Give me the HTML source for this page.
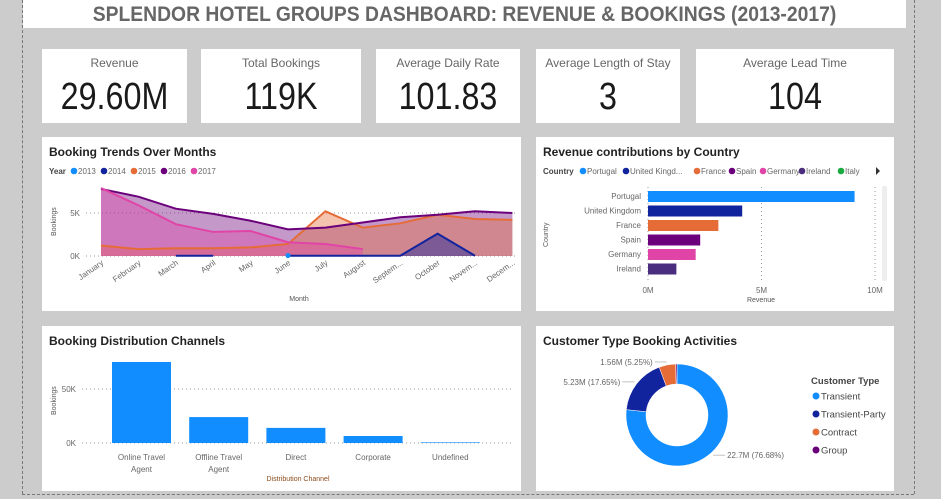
<!DOCTYPE html>
<html><head><meta charset="utf-8">
<style>
body{margin:0;width:941px;height:499px;background:#cccccc;position:relative;overflow:hidden;font-family:"Liberation Sans",sans-serif;}
.abs{position:absolute;}
.panel{position:absolute;background:#fff;}
.card{position:absolute;background:#fff;top:49px;height:74px;text-align:center;}
.card .lbl{position:absolute;left:0;right:0;top:7px;font-size:12px;color:#666;}
.card .val{position:absolute;left:0;right:0;top:27px;font-size:38px;color:#1a1a1a;transform:scaleX(.85);}
.ptitle{position:absolute;left:7px;top:8px;font-size:12px;font-weight:bold;color:#222;}
svg text{font-family:"Liberation Sans",sans-serif;}
</style></head><body>
<div class="abs" style="left:22px;top:0;height:494px;border-left:1px dashed #777"></div>
<div class="abs" style="left:914px;top:0;height:494px;border-left:1px dashed #777"></div>
<div class="abs" style="left:22px;top:494px;width:892px;border-top:1px dashed #777"></div>
<div class="abs" style="left:23px;top:0;width:883px;height:28px;background:#fff;text-align:center;">
<div style="font-size:21px;font-weight:bold;color:#666;line-height:24px;padding-top:3px;transform:scaleX(.92);white-space:nowrap;">SPLENDOR HOTEL GROUPS DASHBOARD: REVENUE &amp; BOOKINGS (2013-2017)</div></div>

<div class="card" style="left:42px;width:145px"><div class="lbl">Revenue</div><div class="val">29.60M</div></div>
<div class="card" style="left:201px;width:160px"><div class="lbl">Total Bookings</div><div class="val">119K</div></div>
<div class="card" style="left:376px;width:144px"><div class="lbl">Average Daily Rate</div><div class="val">101.83</div></div>
<div class="card" style="left:536px;width:144px"><div class="lbl">Average Length of Stay</div><div class="val">3</div></div>
<div class="card" style="left:696px;width:198px"><div class="lbl">Average Lead Time</div><div class="val">104</div></div>

<div class="panel" style="left:42px;top:137px;width:479px;height:174px"><div class="ptitle">Booking Trends Over Months</div></div>
<div class="panel" style="left:536px;top:137px;width:358px;height:174px"><div class="ptitle">Revenue contributions by Country</div></div>
<div class="panel" style="left:42px;top:326px;width:479px;height:165px"><div class="ptitle">Booking Distribution Channels</div></div>
<div class="panel" style="left:536px;top:326px;width:358px;height:165px"><div class="ptitle">Customer Type Booking Activities</div></div>

<svg id="chart" class="abs" style="left:0;top:0" width="941" height="499"></svg>
<script>
// ---- Booking trends data ----
const months=["January","February","March","April","May","June","July","August","Septem...","October","Novem...","Decem..."];
const years=["2013","2014","2015","2016","2017"];
const yearColors=["#118dff","#12239e","#e66c37","#6b007b","#e044a7"];
const s2013=[null,null,null,null,null,0.05,null,null,null,null,null,null];
const s2014=[null,null,0.03,0.03,null,0.03,0.03,0.03,0.03,2.6,0.03,null];
const s2015=[1.2,0.8,0.9,0.9,1.0,1.4,5.2,3.3,3.8,4.8,4.3,4.2];
const s2016=[7.8,6.9,5.5,4.9,4.1,3.1,3.3,3.9,4.5,4.8,5.2,5.0];
const s2017=[7.9,5.9,3.7,2.8,2.9,1.6,1.4,0.8,null,null,null,null];
const trendTicks=[0,5];
// ---- Country data ----
const countries=["Portugal","United Kingdom","France","Spain","Germany","Ireland"];
const countryRevenue=[9.1,4.15,3.1,2.3,2.1,1.25];
const countryColors=["#118dff","#12239e","#e66c37","#6b007b","#e044a7","#4b2d7f"];
const countryLegend=["Portugal","United Kingd...","France","Spain","Germany","Ireland","Italy"];
const countryLegendColors=["#118dff","#12239e","#e66c37","#6b007b","#e044a7","#4b2d7f","#1aab40"];
const revenueTicks=[0,5,10];
// ---- Channel data ----
const channels=[["Online Travel","Agent"],["Offline Travel","Agent"],["Direct"],["Corporate"],["Undefined"]];
const channelBookings=[75,24,14,6.5,0.6];
const channelTicks=[0,50];
// ---- Customer type data ----
const custTypes=["Transient","Transient-Party","Contract","Group"];
const custShare=[76.68,17.65,5.25,0.42];
const custLabels=["22.7M (76.68%)","5.23M (17.65%)","1.56M (5.25%)",""];
const custColors=["#118dff","#12239e","#e66c37","#6b007b"];

const svg=document.getElementById('chart');
const NS="http://www.w3.org/2000/svg";
function mk(tag,attrs,parent){const e=document.createElementNS(NS,tag);for(const k in attrs)e.setAttribute(k,attrs[k]);(parent||svg).appendChild(e);return e;}
function txt(x,y,s,attrs){const t=mk('text',Object.assign({x:x,y:y,'font-size':8,fill:'#666'},attrs||{}));t.textContent=s;return t;}

// ===== Booking trends =====
const tx=i=>101+i*37.4, ty=v=>256-v*8.6;
txt(49,174,"Year",{'font-weight':'bold',fill:'#444'});
let lx=71;
years.forEach((y,i)=>{const c=mk('circle',{cx:lx+3,cy:171,r:3.3,fill:yearColors[i]});


const t=txt(lx+7,174,y);


lx+=30;});
trendTicks.forEach(v=>{const l=mk('line',{x1:86,x2:515,y1:ty(v),y2:ty(v),stroke:'#999','stroke-dasharray':'1 3'});


const t=txt(80,ty(v)+3,v+"K",{'text-anchor':'end'});

});
const yt=txt(0,0,"Bookings",{transform:"translate(56,236) rotate(-90)",'font-size':7,fill:'#555'});


months.forEach((m,i)=>{const t=txt(0,0,m,{'text-anchor':'end',transform:`translate(${tx(i)+3},${264}) rotate(-35)`});

});
const xt=txt(299,301,"Month",{'text-anchor':'middle','font-size':7,fill:'#555'});


const series=[s2013,s2014,s2015,s2016,s2017];
function segments(arr){const segs=[];let cur=[];arr.forEach((v,i)=>{if(v===null){if(cur.length)segs.push(cur);cur=[];}else cur.push([i,v]);});if(cur.length)segs.push(cur);return segs;}
[3,2,4,1].forEach(si=>{segments(series[si]).forEach(seg=>{if(seg.length<2)return;
let d=`M${tx(seg[0][0])},${ty(0)}`+seg.map(p=>`L${tx(p[0])},${ty(p[1])}`).join('')+`L${tx(seg[seg.length-1][0])},${ty(0)}Z`;
const a=mk('path',{d:d,fill:yearColors[si],opacity:si==1?0.45:0.4});

});});
[2,3,4,1].forEach(si=>{segments(series[si]).forEach(seg=>{if(seg.length<2)return;
const l=mk('polyline',{points:seg.map(p=>tx(p[0])+','+ty(p[1])).join(' '),fill:'none',stroke:yearColors[si],'stroke-width':2});

});});
s2013.forEach((v,i)=>{if(v!==null){const c=mk('circle',{cx:tx(i),cy:ty(v),r:2.5,fill:yearColors[0]});

}});

// ===== Country bars =====
const cx0=648, cxs=v=>cx0+v*22.7, cy=i=>191+i*14.5;
txt(543,174,"Country",{'font-weight':'bold',fill:'#444'});
let clx=580;
countryLegend.forEach((c,i)=>{mk('circle',{cx:clx+3,cy:171,r:3.3,fill:countryLegendColors[i]});
const t=txt(clx+7,174,c,{'font-size':8});


clx+=7+c.length*4.0+4;});
const arrow=mk('path',{d:'M876,167 L880,171 L876,175 Z',fill:'#333'});


revenueTicks.forEach(v=>{const l=mk('line',{x1:cxs(v),x2:cxs(v),y1:187,y2:281,stroke:'#999','stroke-dasharray':'1 3'});


const t=txt(cxs(v),293,v+"M",{'text-anchor':'middle'});

});
countries.forEach((c,i)=>{const r=mk('rect',{x:cx0,y:cy(i),width:cxs(countryRevenue[i])-cx0,height:11,fill:countryColors[i]});


const t=txt(641,cy(i)+8,c,{'text-anchor':'end'});

});
const ct=txt(0,0,"Country",{transform:"translate(548,247) rotate(-90)",'font-size':7,fill:'#555'});


const rt=txt(761,302,"Revenue",{'text-anchor':'middle','font-size':7,fill:'#555'});


const sb=mk('rect',{x:882,y:186,width:5,height:95,rx:2,fill:'#eee'});



// ===== Channel bars =====
const by=v=>443-v*1.08, bx=i=>112+i*77.2;
channelTicks.forEach(v=>{const l=mk('line',{x1:82,x2:514,y1:by(v),y2:by(v),stroke:'#999','stroke-dasharray':'1 3'});


const t=txt(76,by(v)+3,v+"K",{'text-anchor':'end'});

});
channels.forEach((c,i)=>{const r=mk('rect',{x:bx(i),y:by(channelBookings[i]),width:59,height:by(0)-by(channelBookings[i]),fill:'#118dff'});


c.forEach((ln,k)=>{const t=txt(bx(i)+29.5,460+k*12,ln,{'text-anchor':'middle'});

});});
const bt=txt(0,0,"Bookings",{transform:"translate(56,415) rotate(-90)",'font-size':7,fill:'#555'});


const dt=txt(298,481,"Distribution Channel",{'text-anchor':'middle','font-size':7,fill:'#8b4a1a'});



// ===== Donut =====
const dcx=677,dcy=415,R=51,r0=31;
const total=custShare.reduce((a,b)=>a+b,0);
let ang=0;
custShare.forEach((s,i)=>{const a0=ang,a1=ang+s/total*2*Math.PI;ang=a1;
const p=(rad,a)=>[dcx+rad*Math.sin(a),dcy-rad*Math.cos(a)];
const large=(a1-a0)>Math.PI?1:0;
const [x1,y1]=p(R,a0),[x2,y2]=p(R,a1),[x3,y3]=p(r0,a1),[x4,y4]=p(r0,a0);
const d=`M${x1},${y1}A${R},${R} 0 ${large} 1 ${x2},${y2}L${x3},${y3}A${r0},${r0} 0 ${large} 0 ${x4},${y4}Z`;
const sl=mk('path',{d:d,fill:custColors[i],stroke:'#fff','stroke-width':0.5});


if(custLabels[i]){const mid=(a0+a1)/2;const [ex,ey]=p(R+3,mid);
const right=Math.sin(mid)>0;const lx2=ex+(right?8:-8);
mk('polyline',{points:`${ex},${ey} ${lx2},${ey} ${lx2+(right?4:-4)},${ey}`,fill:'none',stroke:'#aaa','stroke-width':0.7});
const t=txt(lx2+(right?6:-6),ey+3,custLabels[i],{'text-anchor':right?'start':'end'});

}});
txt(811,384,"Customer Type",{'font-size':9.5,'font-weight':'bold',fill:'#444'});
custTypes.forEach((c,i)=>{mk('circle',{cx:816,cy:396+i*18,r:3.5,fill:custColors[i]});
const t=txt(821,399.5+i*18,c,{'font-size':9.5,fill:'#444'});

});
</script>
</body></html>
